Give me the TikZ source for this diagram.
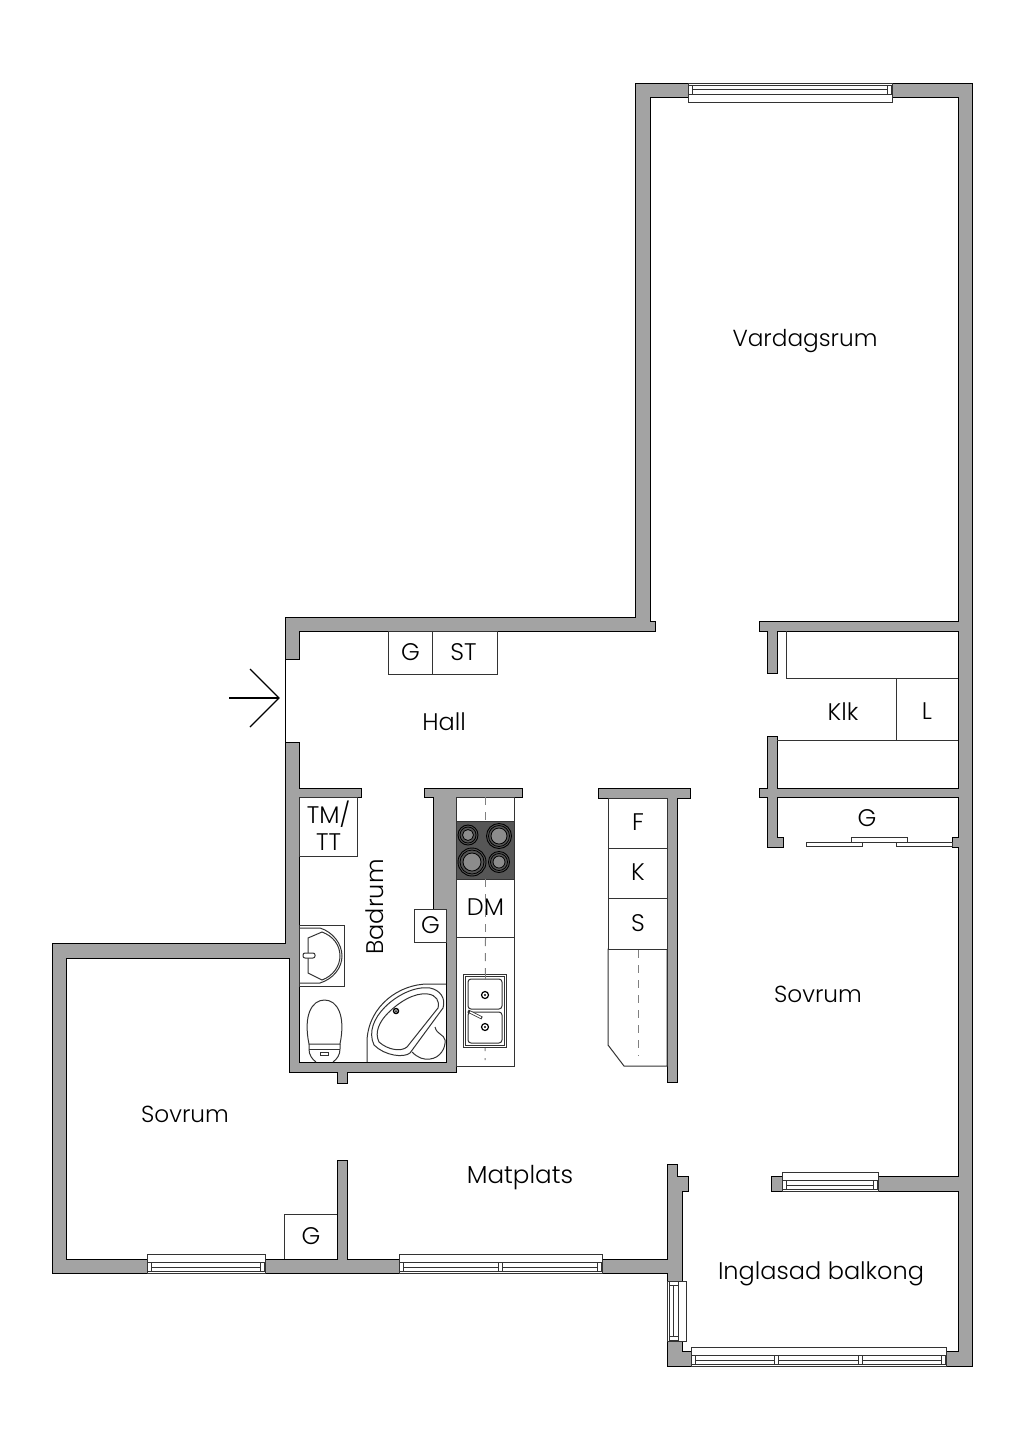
\documentclass[tikz,border=0pt]{standalone}
\usepackage{fontspec}
\setmainfont{Poppins}[UprightFont=* Light]
\usepackage{tikz}
\definecolor{wallgray}{HTML}{A3A3A3}
\definecolor{hobgray}{HTML}{565656}
\definecolor{ringgray}{HTML}{8C8C8C}
\definecolor{inkgray}{HTML}{333333}
\tikzstyle{wall} = [draw=black, fill=wallgray, line width=0.8pt]
\tikzstyle{fix} = [draw=inkgray, line width=1pt]
\tikzstyle{rect} = [rectangle, fix, fill=white, inner sep=0pt, text centered, text depth=2pt, anchor=north west, font=\fontsize{24}{26}\selectfont, text=black]
\tikzstyle{lbl} = [inner sep=0pt, font=\fontsize{24}{26}\selectfont]
\tikzstyle{lblsmall} = [inner sep=0pt, font=\fontsize{23.2}{26}\selectfont]
\tikzstyle{centerline} = [draw=gray, line width=1pt, dash pattern=on 8pt off 7pt]
\newcommand{\winbox}[3]{%
  \begin{scope}[#1]
    \draw[fix, fill=white] (0,0) rectangle (#2,19);
    \draw[fix] (0,2) -- (#2,2);
    \draw[fix] (0,11) -- (#2,11);
    \draw[fix] (5,6) -- ({#2-5},6);
    \foreach \m in {#3} {
      \draw[fix, fill=white] ({\m-2},2) rectangle ({\m+2},11);
    }
  \end{scope}}

\begin{document}
\begin{tikzpicture}[x=1pt,y=-1pt]
  \useasboundingbox (0,0) rectangle (1024,1448);

  % walls
  \draw[wall] (688,83) -- (635,83) -- (635,617) -- (285,617) -- (285,659) -- (299,659) -- (299,631) -- (655,631) -- (655,621) -- (650,621) -- (650,97) -- (688,97) -- cycle;
  \draw[wall] (892,83) -- (972,83) -- (972,1366) -- (946,1366) -- (946,1351) -- (958,1351) -- (958,1191) -- (878,1191) -- (878,1176) -- (958,1176) -- (958,847) -- (952,847) -- (952,837) -- (958,837) -- (958,797) -- (777,797) -- (777,837) -- (783.5,837) -- (783.5,847) -- (767,847) -- (767,797) -- (759,797) -- (759,788) -- (767,788) -- (767,736) -- (777,736) -- (777,788) -- (958,788) -- (958,631) -- (777,631) -- (777,673) -- (767,673) -- (767,631) -- (759,631) -- (759,621) -- (958,621) -- (958,97) -- (892,97) -- cycle;
  \draw[wall] (285,742) -- (299,742) -- (299,788) -- (361,788) -- (361,797) -- (299,797) -- (299,1062) -- (446,1062) -- (446,909) -- (433,909) -- (433,797) -- (424,797) -- (424,788) -- (522,788) -- (522,797) -- (456,797) -- (456,1072) -- (347,1072) -- (347,1083) -- (337,1083) -- (337,1072) -- (289,1072) -- (289,958) -- (66,958) -- (66,1259) -- (147,1259) -- (147,1273) -- (52,1273) -- (52,943) -- (285,943) -- cycle;
  \draw[wall] (265,1259) -- (337,1259) -- (337,1160) -- (347,1160) -- (347,1259) -- (399,1259) -- (399,1273) -- (265,1273) -- cycle;
  \draw[wall] (602,1259) -- (667,1259) -- (667,1164) -- (677,1164) -- (677,1176) -- (688,1176) -- (688,1191) -- (682,1191) -- (682,1281) -- (667,1281) -- (667,1273) -- (602,1273) -- cycle;
  \draw[wall] (667,1341) -- (682,1341) -- (682,1351) -- (691,1351) -- (691,1366) -- (667,1366) -- cycle;
  \draw[wall] (598,788) -- (690,788) -- (690,798) -- (677,798) -- (677,1082) -- (667,1082) -- (667,798) -- (598,798) -- cycle;
  \draw[wall] (771,1176) -- (782,1176) -- (782,1191) -- (771,1191) -- cycle;

  % windows
  \winbox{shift={(688,83)}}{204}{2.5,201.5}
  \winbox{shift={(147,1273)},yscale=-1}{118}{2.5,115.5}
  \winbox{shift={(399,1273)},yscale=-1}{203}{2.5,101.5,200.5}
  \winbox{shift={(782,1191)},yscale=-1}{96}{2.5,93.5}
  \winbox{shift={(691,1366)},yscale=-1}{255}{2.5,85,169,252.5}
  \winbox{shift={(667,1281)},cm={0,-1,-1,0,(0,0)}}{60}{2.5,57.5}

  % entrance
  \coordinate (doorTop) at (285,659);
  \coordinate (doorBottom) at (285,742);
  \draw[line width=1pt] (doorTop) -- (doorBottom);
  \coordinate (arrowTail) at (229,698);
  \coordinate (arrowTip) at (279,698);
  \coordinate (arrowUp) at (250,669);
  \coordinate (arrowDown) at (250,727);
  \draw[line width=1.3pt] (arrowTail) -- (arrowTip);
  \draw[line width=1.3pt] (arrowUp) -- (arrowTip) -- (arrowDown);

  % hall units
  \node (hallG) [rect, minimum width=44pt, minimum height=43pt] at (388,631) {G};
  \node (hallST) [rect, minimum width=65pt, minimum height=43pt] at (432,631) {\hspace{-3pt}ST};
  \node (bathTM) [rect, minimum width=58pt, minimum height=59pt, align=center, font=\fontsize{24}{27}\selectfont] at (299,797) {TM/\\TT};
  \node (bathG) [rect, minimum width=32pt, minimum height=33pt] at (414,909) {G};

  % kitchen, left side
  \node (counter) [rect, minimum width=58pt, minimum height=269pt] at (456,797) {};
  \node (cooker) [rect, fill=hobgray, minimum width=58pt, minimum height=58pt] at (456,821) {};
  \node (dishwasher) [rect, fill=none, minimum width=58pt, minimum height=58pt] at (456,879) {DM};
  \draw[centerline] (counter.north) -- (cooker.north);
  \draw[centerline] (dishwasher.north) -- (dishwasher.south);
  \draw[centerline] (dishwasher.south) -- (485,1060);
  \foreach \cx/\cy/\ra/\rb in {468/835/10/5.5, 499/836/12.5/8, 472/862/14/9, 499/862/10.5/6} {
    \draw[line width=0.9pt, fill=hobgray] (\cx,\cy) circle (\ra);
    \draw[line width=0.8pt] (\cx,\cy) circle ({\ra-2});
    \draw[line width=0.8pt, fill=ringgray] (\cx,\cy) circle (\rb);
  }
  \draw[fix, fill=white] (463,974) rectangle (506,1047);
  \draw[fix] (465,976) rectangle (504,1045);
  \draw[fix, fill=white, rounded corners=3pt] (468,979) rectangle (502,1009);
  \draw[fix, fill=white, rounded corners=3pt] (468,1012) rectangle (502,1043);
  \draw[centerline] (485,974) -- (485,979);
  \foreach \cy in {995,1027} {
    \draw[line width=1.2pt] (485,\cy) circle (3.5);
    \fill (485,\cy) circle (1.2);
  }
  \draw[line width=3pt, inkgray] (468,1011) -- (482,1018);
  \draw[line width=1.5pt, white] (470,1012) -- (481,1017.5);

  % kitchen, right side
  \draw[fix, fill=white] (608,949) -- (608,1045) -- (624,1066) -- (667,1066) -- (667,949) -- cycle;
  \node (fridge) [rect, minimum width=59pt, minimum height=50pt] at (608,798) {F};
  \node (freezer) [rect, minimum width=59pt, minimum height=50pt] at (608,848) {K};
  \node (stove) [rect, minimum width=59pt, minimum height=51pt] at (608,898) {S};
  \draw[centerline] (stove.south) -- (638,1056);

  % wash basin
  \draw[fix, fill=white] (299,925) rectangle (344,986);
  \draw[fix] (299,928) -- (320,928) .. controls (333,932) and (342,944) .. (342,956) .. controls (342,968) and (333,979) .. (320,983) -- (299,983);
  \draw[fix] (308,938) -- (322,932) .. controls (333,936) and (340,945) .. (340,956) .. controls (340,966) and (333,976) .. (322,980) -- (308,973) -- cycle;
  \draw[fix, fill=white, rounded corners=2pt] (303,953) rectangle (315,958);

  % toilet
  \draw[fix] (309,1044) .. controls (303,1015) and (312,1000) .. (324.5,1000) .. controls (337,1000) and (346,1015) .. (340,1044) -- cycle;
  \draw[fix] (309,1049) -- (340,1049);
  \draw[fix] (309,1044) -- (309,1049) .. controls (309,1055) and (312,1059) .. (316,1062);
  \draw[fix] (340,1044) -- (340,1049) .. controls (340,1055) and (337,1059) .. (333,1062);
  \draw[fix] (320.5,1052) rectangle (328.5,1055);

  % bath
  \draw[fix] (367,1062) -- (367,1040) .. controls (369,1005) and (400,984) .. (428,984) -- (446,984);
  \draw[fix] (430,988) .. controls (440,990) and (446,998) .. (443,1008) -- (410,1053) .. controls (404,1058) and (385,1056) .. (374,1045) .. controls (368,1032) and (374,1018) .. (385,1007) .. controls (397,995) and (415,986) .. (430,988) -- cycle;
  \draw[fix] (428,994) .. controls (436,995) and (440,1001) .. (438,1008) -- (407,1047) .. controls (401,1052) and (388,1050) .. (379,1042) .. controls (374,1032) and (380,1021) .. (388,1013) .. controls (398,1003) and (414,992) .. (428,994) -- cycle;
  \draw[line width=1.4pt, fill=white] (396,1011) circle (2.5);
  \fill (396,1011) circle (1);
  \draw[fix] (412,1052) .. controls (418,1058) and (424,1060) .. (430,1059) .. controls (440,1058) and (446,1048) .. (445,1040) .. controls (444,1034) and (437,1035) .. (435,1027);

  % klk and wardrobes
  \coordinate (klkTop) at (786,631);
  \coordinate (klkCorner) at (786,678);
  \coordinate (klkRight) at (958,678);
  \coordinate (klkLeft) at (777,740);
  \coordinate (klkLow) at (958,740);
  \coordinate (lTop) at (896,678);
  \coordinate (lBottom) at (896,740);
  \draw[fix] (klkTop) -- (klkCorner) -- (klkRight);
  \draw[fix] (klkLeft) -- (klkLow);
  \draw[fix] (lTop) -- (lBottom);
  \draw[fix, fill=white] (851,837) rectangle (907,842);
  \draw[fix, fill=white] (806,842) rectangle (862,846.5);
  \draw[fix, fill=white] (896,842) rectangle (952,846.5);
  \draw[fix] (284,1259) -- (284,1214) -- (337,1214);
  \node (bedG) [lbl] at (311,1236) {G};

  % room names
  \node (vardagsrum) [lblsmall] at (805,341) {Vardagsrum};
  \node (hall) [lbl] at (444,722) {Hall};
  \node (klk) [lbl] at (843,711.5) {Klk};
  \node (lamp) [lbl] at (927,711) {L};
  \node (closetG) [lbl] at (867,818) {G};
  \node (badrum) [lbl, rotate=90] at (375,907) {Badrum};
  \node (sovrumA) [lblsmall] at (818,994.5) {Sovrum};
  \node (sovrumB) [lblsmall] at (185,1114.5) {Sovrum};
  \node (matplats) [lbl, font=\fontsize{24.6}{26}\selectfont] at (520,1178) {Matplats};
  \node (balkong) [lbl] at (821,1274) {Inglasad balkong};
\end{tikzpicture}
\end{document}
